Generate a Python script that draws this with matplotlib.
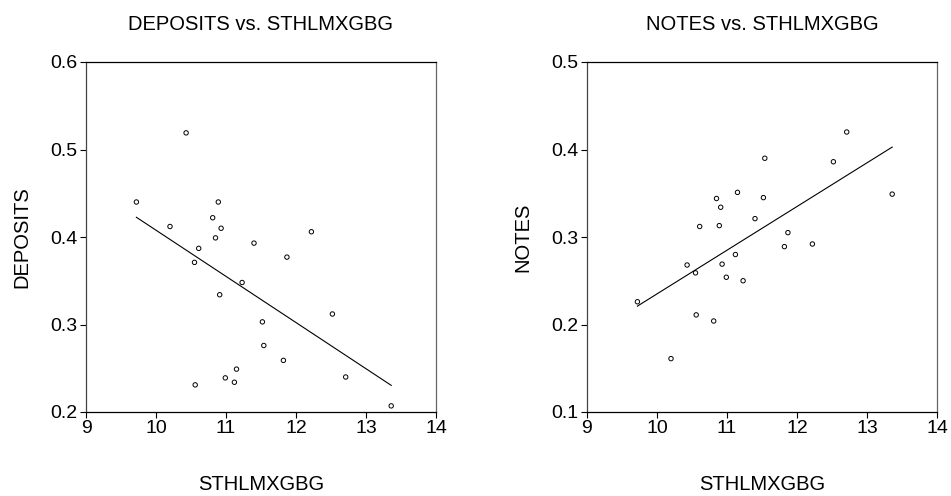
import numpy as np
import matplotlib
matplotlib.use("Agg")
import matplotlib.pyplot as plt

plt.rcParams['font.family'] = ['Liberation Sans', 'DejaVu Sans']

# STHLMXGBG values (shared x for both panels)
sthlmxgbg = [9.72, 10.20, 10.43, 10.55, 10.56, 10.61, 10.81, 10.85, 10.89, 10.91,
             10.93, 10.99, 11.12, 11.15, 11.23, 11.40, 11.52, 11.54, 11.82, 11.87,
             12.22, 12.52, 12.71, 13.36]
deposits = [0.440, 0.412, 0.519, 0.371, 0.231, 0.387, 0.422, 0.399, 0.440, 0.334,
            0.410, 0.239, 0.234, 0.249, 0.348, 0.393, 0.303, 0.276, 0.259, 0.377,
            0.406, 0.312, 0.240, 0.207]
notes = [0.226, 0.161, 0.268, 0.259, 0.211, 0.312, 0.204, 0.344, 0.313, 0.334,
         0.269, 0.254, 0.280, 0.351, 0.250, 0.321, 0.345, 0.390, 0.289, 0.305,
         0.292, 0.386, 0.420, 0.349]

panels = [
    ("DEPOSITS", deposits, (0.2, 0.6), [0.2, 0.3, 0.4, 0.5, 0.6]),
    ("NOTES", notes, (0.1, 0.5), [0.1, 0.2, 0.3, 0.4, 0.5]),
]

fig = plt.figure(figsize=(9.51, 4.96), dpi=100)
W, H = 951, 496
lefts = [86, 587]

x = np.array(sthlmxgbg)
for left, (name, yvals, ylim, yticks) in zip(lefts, panels):
    ax = fig.add_axes([left / W, (H - 412) / H, 350 / W, 350 / H])
    y = np.array(yvals)
    ax.scatter(x, y, s=10, facecolors='none', edgecolors='black', linewidths=0.7, zorder=3)
    # least-squares fit line
    b, a = np.polyfit(x, y, 1)
    xx = np.array([x.min(), x.max()])
    ax.plot(xx, a + b * xx, color='black', lw=0.8)

    ax.set_xlim(9, 14)
    ax.set_ylim(*ylim)
    ax.set_xticks([9, 10, 11, 12, 13, 14])
    ax.set_yticks(yticks)
    ax.set_yticklabels([f"{t:.1f}" for t in yticks])
    ax.tick_params(direction='out', length=4, width=0.8, labelsize=14, pad=2)
    for sp in ax.spines.values():
        sp.set_linewidth(0.9)
    ax.spines['left'].set_color('#444444')
    ax.spines['right'].set_color('#666666')

    ax.set_title(f"{name} vs. STHLMXGBG", fontsize=14.5, pad=23)
    ax.set_xlabel("STHLMXGBG", fontsize=14.5, labelpad=27)
    ax.set_ylabel(name, fontsize=14.5, labelpad=14)

fig.savefig("out.png", dpi=100)
